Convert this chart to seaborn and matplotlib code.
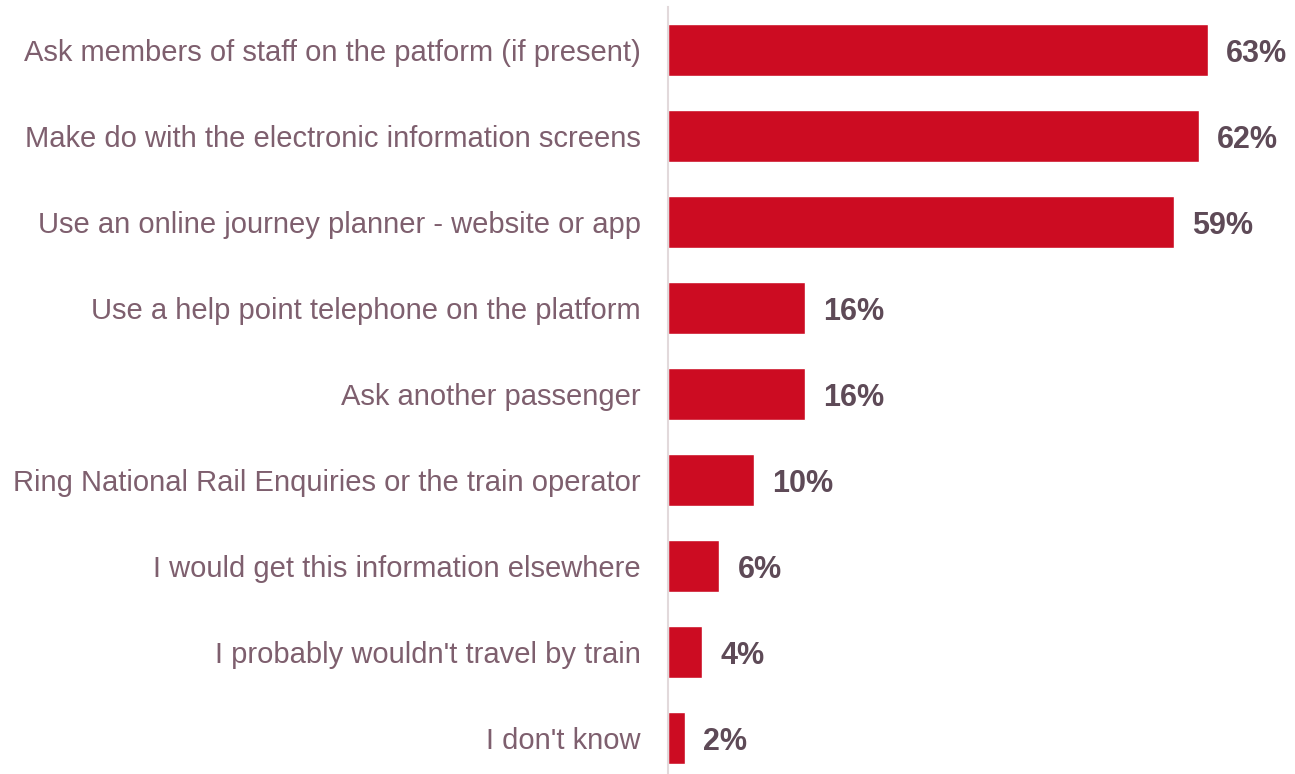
import matplotlib
matplotlib.use("Agg")
import matplotlib.pyplot as plt
import seaborn as sns
import pandas as pd

categories = [
    "Ask members of staff on the patform (if present)",
    "Make do with the electronic information screens",
    "Use an online journey planner - website or app",
    "Use a help point telephone on the platform",
    "Ask another passenger",
    "Ring National Rail Enquiries or the train operator",
    "I would get this information elsewhere",
    "I probably wouldn't travel by train",
    "I don't know",
]
values = [63, 62, 59, 16, 16, 10, 6, 4, 2]
value_labels = [f"{v}%" for v in values]

BAR_COLOR = "#CC0C22"
LABEL_COLOR = "#7E5F6E"
VALUE_COLOR = "#5E4A57"
AXIS_COLOR = "#E2D9DB"

sns.set_theme(style="white")
plt.rcParams["font.family"] = ["Liberation Sans", "DejaVu Sans"]

W, H = 1295, 774
fig = plt.figure(figsize=(W / 100, H / 100), dpi=100)
# axes placed in pixel terms: left edge at the category divider
left_px, right_px, top_px, bottom_px = 668, 1295, 7, 774
ax = fig.add_axes([left_px / W, 1 - bottom_px / H,
                   (right_px - left_px) / W, (bottom_px - top_px) / H])

df = pd.DataFrame({"category": categories, "value": values})
sns.barplot(data=df, x="value", y="category", color=BAR_COLOR,
            width=0.605, saturation=1, ax=ax, orient="h")

px_per_unit = 86
ax.set_xlim(0, (right_px - left_px) / 8.57)
ax.set_ylim(-0.5 + (bottom_px - top_px) / px_per_unit, -0.5)

for i, (v, lab) in enumerate(zip(values, value_labels)):
    ax.text(v + 2.1, i, lab, va="center_baseline", ha="left", fontsize=22,
            fontweight="bold", color=VALUE_COLOR)

ax.set_xlabel("")
ax.set_ylabel("")
ax.set_xticks([])
ax.tick_params(axis="y", length=0, pad=19.5)
for t in ax.get_yticklabels():
    t.set_fontsize(21)
    t.set_color(LABEL_COLOR)

for side in ["top", "right", "bottom"]:
    ax.spines[side].set_visible(False)
ax.spines["left"].set_color(AXIS_COLOR)
ax.spines["left"].set_linewidth(1.5)

fig.savefig("out.png", dpi=100)
